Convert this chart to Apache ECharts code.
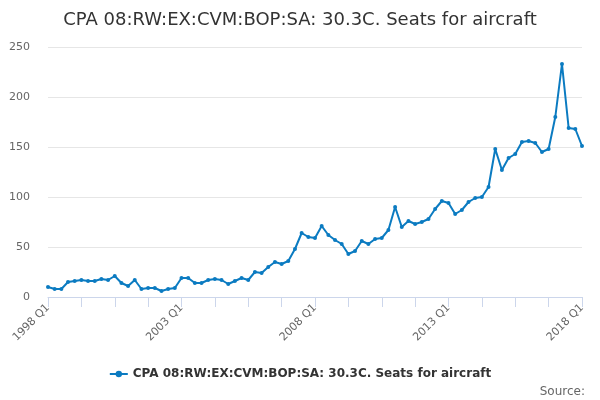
<!DOCTYPE html>
<html>
<head>
<meta charset="utf-8">
<script src="https://cdn.jsdelivr.net/npm/echarts@6/dist/echarts.min.js"></script>
<style>
  html, body { margin: 0; padding: 0; background: #fff; }
  #container { width: 600px; height: 400px; }
</style>
</head>
<body>
<div id="container"></div>
<script>
const seriesName = "CPA 08:RW:EX:CVM:BOP:SA: 30.3C. Seats for aircraft";

// quarters 1998 Q1 .. 2018 Q1
const quarters = [];
for (let y = 1998; y <= 2018; y++) {
  for (let q = 1; q <= 4; q++) {
    if (y === 2018 && q > 1) break;
    quarters.push(y + " Q" + q);
  }
}

const seats = [
  10, 8, 8, 15, 16, 17, 16, 16, 18, 17, 21, 14,
  11, 17, 8, 9, 9, 6, 8, 9, 19, 19, 14, 14,
  17, 18, 17, 13, 16, 19, 17, 25, 24, 30, 35, 33,
  36, 48, 64, 60, 59, 71, 62, 57, 53, 43, 46, 56,
  53, 58, 59, 67, 90, 70, 76, 73, 75, 78, 88, 96,
  94, 83, 87, 95, 99, 100, 110, 148, 127, 139, 143, 155,
  156, 154, 145, 148, 180, 233, 169, 168, 151
];

const yTicks = [0, 50, 100, 150, 200, 250];

const dom = document.getElementById("container");
const myChart = echarts.init(dom, null, { renderer: "canvas" });

const option = {
  animation: false,
  title: [
    {
      text: seriesName,
      left: "center",
      top: 6,
      textStyle: {
        fontFamily: "DejaVu Sans",
        fontSize: 18,
        fontWeight: "normal",
        color: "#333333",
      },
    },
    {
      text: "Source:",
      right: 10,
      top: 381,
      textStyle: {
        fontFamily: "DejaVu Sans",
        fontSize: 12,
        fontWeight: "normal",
        color: "#666666",
      },
    },
  ],
  legend: {
    bottom: 15,
    left: "center",
    itemWidth: 18,
    itemHeight: 8,
    data: [seriesName],
    textStyle: {
      fontFamily: "DejaVu Sans",
      fontSize: 12,
      fontWeight: "bold",
      color: "#333333",
    },
  },
  grid: {
    left: 48,
    right: 18,
    top: 47,
    bottom: 103,
  },
  xAxis: {
    type: "category",
    boundaryGap: false,
    data: quarters,
    axisLine: { lineStyle: { color: "#ccd6eb", width: 1 } },
    axisTick: {
      interval: 4,
      length: 10,
      lineStyle: { color: "#ccd6eb" },
    },
    axisLabel: {
      interval: 19,
      rotate: 45,
      color: "#666666",
      fontFamily: "DejaVu Sans",
      fontSize: 11,
      margin: 9,
    },
    splitLine: { show: false },
  },
  yAxis: {
    type: "value",
    min: yTicks[0],
    max: yTicks[yTicks.length - 1],
    interval: 50,
    axisLine: { show: false },
    axisTick: { show: false },
    axisLabel: {
      color: "#666666",
      fontFamily: "DejaVu Sans",
      fontSize: 11,
      margin: 18,
    },
    splitLine: { lineStyle: { color: "#e6e6e6", width: 1 } },
  },
  series: [
    {
      name: seriesName,
      type: "line",
      data: seats,
      color: "#0b7bc1",
      lineStyle: { width: 2 },
      symbol: "circle",
      symbolSize: 4,
      showSymbol: true,
    },
  ],
};

myChart.setOption(option);
window.addEventListener("resize", myChart.resize);
</script>
</body>
</html>
